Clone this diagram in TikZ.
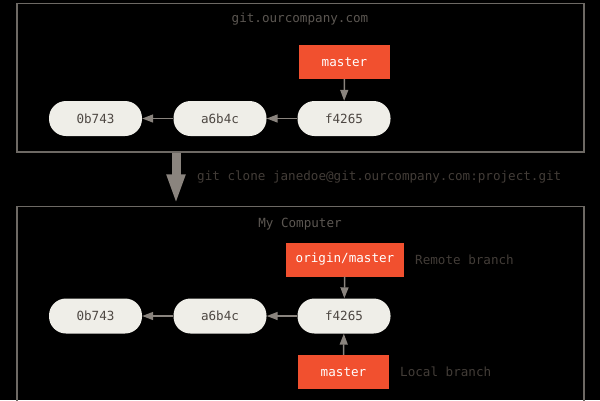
\documentclass[tikz,border=0pt]{standalone}
\usepackage{fontspec}
\setmonofont{DejaVu Sans Mono}
\usetikzlibrary{arrows.meta}

\definecolor{gitorange}{HTML}{F1502F}
\definecolor{commitfill}{HTML}{EFEEE8}
\definecolor{committext}{HTML}{4E4843}
\definecolor{framegray}{HTML}{6D6964}
\definecolor{arrowgray}{HTML}{8A847E}
\definecolor{titlegray}{HTML}{5C5752}
\definecolor{notegray}{HTML}{433D38}

\tikzset{
    txt/.style={font=\ttfamily\fontsize{12.6}{15}\selectfont},
    commit/.style={txt, fill=commitfill, text=committext, rounded corners=17pt,
        minimum width=93pt, minimum height=35pt, inner sep=0pt},
    branch/.style={txt, fill=gitorange, text=white, minimum height=34pt, inner sep=0pt},
    machine/.style={draw=framegray, line width=1.5pt, minimum width=567pt},
    parent/.style={draw=arrowgray, line width=1.5pt, -{Triangle[length=11pt,width=8pt]}},
    note/.style={txt, text=notegray, anchor=west, inner sep=0pt},
}

\begin{document}
\begin{tikzpicture}[x=1pt, y=-1pt]

\def\cya{118.5}
\def\cyb{316}

\fill[black] (0,0) rectangle (600,400);
\useasboundingbox (0,0) rectangle (600,400);

% server
\node[machine, minimum height=148.5pt] (server) at (300.5, 77.75) {};
\node[txt, text=titlegray] (servername) at (300, 19) {git.ourcompany.com};
\node[branch, minimum width=91pt] (smaster) at (344.5, 62) {master};
\node[commit] (sc0) at (95.5, \cya) {0b743};
\node[commit] (sc1) at (220, \cya) {a6b4c};
\node[commit] (sc2) at (344, \cya) {f4265};

\draw[parent] (sc2) -- (sc1);
\draw[parent] (sc1) -- (sc0);
\draw[parent] (smaster) -- (sc2);

% local machine
\node[machine, minimum height=223pt] (local) at (300.5, 318) {};
\node[txt, text=titlegray] (localname) at (300, 224) {My Computer};
\node[branch, minimum width=118pt] (origin) at (345, 259.5) {origin/master};
\node[note] (remotenote) at (415, 259.5) {Remote branch};
\node[commit] (lc0) at (95.5, \cyb) {0b743};
\node[commit] (lc1) at (220, \cyb) {a6b4c};
\node[commit] (lc2) at (344, \cyb) {f4265};
\node[branch, minimum width=91pt] (lmaster) at (343.5, 372) {master};
\node[note] (localnote) at (400, 372) {Local branch};

\draw[parent] (lc2) -- (lc1);
\draw[parent] (lc1) -- (lc0);
\draw[parent] (origin) -- (lc2);
\draw[parent] (lmaster) -- (lc2);

% clone
\coordinate (clonex) at (176, 0);
\draw[arrowgray, line width=9pt, -{Triangle[length=30pt,width=17pt]}]
    (server.south -| clonex) -- ([yshift=1.5pt]local.north -| clonex);
\node[note] (clonecmd) at (197, 177) {git clone janedoe@git.ourcompany.com:project.git};

\end{tikzpicture}
\end{document}
